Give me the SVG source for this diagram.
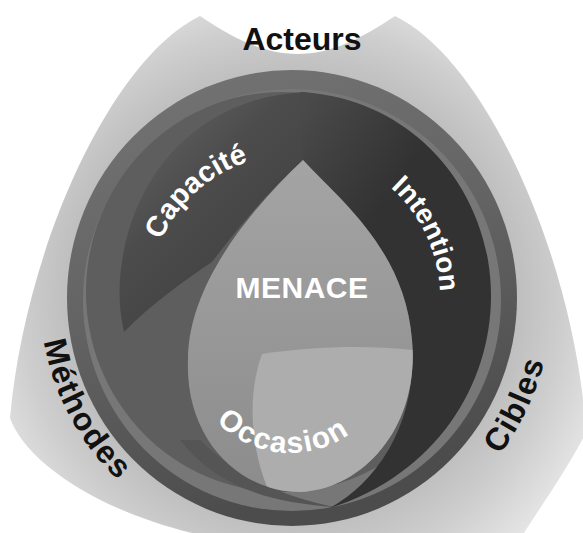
<svg xmlns="http://www.w3.org/2000/svg" xmlns:xlink="http://www.w3.org/1999/xlink" width="583" height="533" viewBox="0 0 583 533">
<defs>
<style>
.lbl{font-family:"Liberation Sans",Arial,sans-serif;font-weight:700;}
.dark{fill:#111;font-size:32px;}
.white{fill:#fff;font-size:28px;}
</style>
<radialGradient id="gOuter" gradientUnits="userSpaceOnUse" cx="292" cy="298" r="340">
<stop offset="0.62" stop-color="#bababa"/>
<stop offset="0.8" stop-color="#cecece"/>
<stop offset="1" stop-color="#e9e9e9"/>
</radialGradient>
<linearGradient id="gRim" x1="0" y1="0" x2="0.3" y2="1">
<stop offset="0" stop-color="#757575"/>
<stop offset="0.5" stop-color="#646464"/>
<stop offset="1" stop-color="#4c4c4c"/>
</linearGradient>
<linearGradient id="gCap" gradientUnits="userSpaceOnUse" x1="150" y1="130" x2="250" y2="230">
<stop offset="0" stop-color="#5e5e5e"/>
<stop offset="0.5" stop-color="#4c4c4c"/>
<stop offset="1" stop-color="#454545"/>
</linearGradient>
<linearGradient id="gInt" gradientUnits="userSpaceOnUse" x1="300" y1="110" x2="400" y2="180">
<stop offset="0" stop-color="#4a4a4a"/>
<stop offset="1" stop-color="#323232"/>
</linearGradient>
<linearGradient id="gDrop" x1="0" y1="0" x2="0" y2="1">
<stop offset="0" stop-color="#a4a4a4"/>
<stop offset="1" stop-color="#8c8c8c"/>
</linearGradient>
<clipPath id="cDrop"><path d="M303,160 C340,200 405,250 412,340 C420,430 360,490 300,492 C240,492 185,440 188,360 C188,285 250,210 303,160 Z"/></clipPath>
<path id="pCap" d="M152.1,327.7 A143,143 0 0 1 336.2,162"/>
<path id="pInt" d="M304.1,150.5 A148,148 0 0 1 413.7,382.2"/>
<path id="pOcc" d="M197.6,394.1 A102,102 0 0 0 373.6,409.5"/>
<path id="pMet" d="M40.1,290.5 A252,252 0 0 0 159.6,512.4"/>
<path id="pCib" d="M439.3,512.3 A260,260 0 0 0 551.2,277.6"/>
</defs>
<rect width="583" height="533" fill="#fff"/>
<g id="acteurs-methodes-cibles">
<path d="M200,16 C110,60 25,250 10,418 C25,460 95,512 205,536 L522,536 C545,500 570,465 590,425 L585,418 C570,250 485,60 395,16 C362,38 332,54 297,54 C263,54 233,38 200,16 Z" fill="url(#gOuter)"/>
</g>
<g id="disc">
<ellipse cx="292" cy="298" rx="225" ry="228" fill="url(#gRim)"/>
<ellipse cx="292" cy="300" rx="209" ry="211" fill="#777"/>
<ellipse cx="282" cy="292" rx="196" ry="200" fill="#5e5e5e"/>
<path d="M180,440 C215,485 265,502 335,507 C290,498 240,480 200,440 Z" fill="#555"/>
</g>
<g id="capacite">
<path d="M306,92 C220,95 145,150 124,250 C118,280 118,305 124,332 C150,305 185,280 212,262 C240,225 270,190 303,160 C304,140 305,115 306,92 Z" fill="url(#gCap)"/>
</g>
<g id="intention">
<path d="M300,92 C390,96 470,160 488,260 C505,360 450,470 330,508 C380,480 418,420 412,340 C405,250 340,200 303,160 C302,140 301,115 300,92 Z" fill="url(#gInt)"/>
</g>
<g id="menace">
<path d="M303,160 C340,200 405,250 412,340 C420,430 360,490 300,492 C240,492 185,440 188,360 C188,285 250,210 303,160 Z" fill="url(#gDrop)"/>
<path d="M262,354 C320,345 380,345 430,352 L430,520 L285,520 C250,470 245,400 262,354 Z" fill="#adadad" clip-path="url(#cDrop)"/>
</g>
<g id="labels" class="lbl">
<text class="dark" x="302" y="50" text-anchor="middle">Acteurs</text>
<text class="dark" letter-spacing="1.5"><textPath xlink:href="#pMet" startOffset="50%" text-anchor="middle">Méthodes</textPath></text>
<text class="dark" letter-spacing="1.5"><textPath xlink:href="#pCib" startOffset="50%" text-anchor="middle">Cibles</textPath></text>
<text class="white" style="font-size:29px"><textPath xlink:href="#pCap" startOffset="50%" text-anchor="middle">Capacité</textPath></text>
<text class="white"><textPath xlink:href="#pInt" startOffset="50%" text-anchor="middle">Intention</textPath></text>
<text class="white" style="font-size:30px" letter-spacing="1.5"><textPath xlink:href="#pOcc" startOffset="50%" text-anchor="middle">Occasion</textPath></text>
<text class="white" x="302" y="298" text-anchor="middle" letter-spacing="0.5" style="font-size:30px">MENACE</text>
</g>
</svg>
